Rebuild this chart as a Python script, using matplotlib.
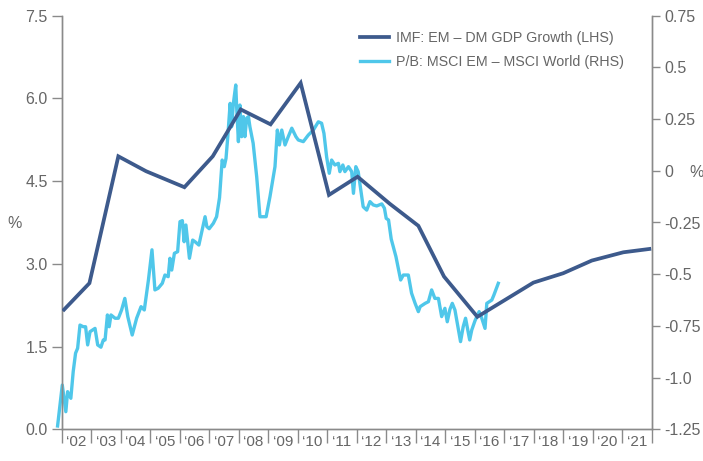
import matplotlib
matplotlib.use("Agg")
import matplotlib.pyplot as plt
from matplotlib.ticker import FixedLocator, FixedFormatter, NullFormatter

# IMF: EM - DM GDP growth (LHS, %)
gdp_x = [2002.08, 2002.94, 2003.92, 2004.86, 2006.16, 2007.12, 2008.07, 2009.08,
         2010.10, 2011.06, 2012.03, 2013.12, 2014.09, 2014.96, 2016.09, 2017.99,
         2019.00, 2019.97, 2021.04, 2021.92]
gdp_y = [2.17, 2.65, 4.95, 4.68, 4.39, 4.95, 5.80, 5.53,
         6.28, 4.25, 4.58, 4.09, 3.69, 2.77, 2.04, 2.66,
         2.83, 3.06, 3.21, 3.27]

# P/B: MSCI EM - MSCI World (RHS)
pb_x = [2001.86, 2002.02, 2002.14, 2002.20, 2002.31, 2002.39, 2002.47, 2002.54, 2002.62, 2002.73,
        2002.81, 2002.88, 2002.96, 2003.13, 2003.22, 2003.33, 2003.41, 2003.47, 2003.55, 2003.61,
        2003.67, 2003.81, 2003.92, 2004.03, 2004.14, 2004.24, 2004.39, 2004.54, 2004.69, 2004.80,
        2004.94, 2005.06, 2005.16, 2005.27, 2005.41, 2005.50, 2005.61, 2005.67, 2005.73, 2005.82,
        2005.93, 2006.01, 2006.09, 2006.15, 2006.21, 2006.33, 2006.44, 2006.52, 2006.65, 2006.80,
        2006.86, 2006.92, 2007.00, 2007.14, 2007.25, 2007.35, 2007.44, 2007.51, 2007.57, 2007.63,
        2007.71, 2007.76, 2007.82, 2007.90, 2007.93, 2007.99, 2008.04, 2008.10, 2008.16, 2008.21,
        2008.27, 2008.33, 2008.38, 2008.49, 2008.61, 2008.72, 2008.81, 2008.93, 2009.06, 2009.23,
        2009.31, 2009.38, 2009.46, 2009.57, 2009.68, 2009.80, 2009.94, 2010.02, 2010.19, 2010.36,
        2010.53, 2010.70, 2010.81, 2010.89, 2010.98, 2011.07, 2011.15, 2011.26, 2011.38, 2011.43,
        2011.53, 2011.60, 2011.72, 2011.83, 2011.89, 2011.97, 2012.05, 2012.14, 2012.22, 2012.34,
        2012.45, 2012.56, 2012.68, 2012.85, 2012.94, 2013.00, 2013.08, 2013.17, 2013.33, 2013.49,
        2013.58, 2013.75, 2013.86, 2013.98, 2014.09, 2014.15, 2014.32, 2014.43, 2014.54, 2014.65,
        2014.77, 2014.88, 2014.99, 2015.07, 2015.16, 2015.24, 2015.33, 2015.41, 2015.52, 2015.61,
        2015.69, 2015.83, 2015.90, 2016.01, 2016.15, 2016.24, 2016.35, 2016.41, 2016.58, 2016.65,
        2016.80]
pb_y = [-1.234, -1.036, -1.165, -1.068, -1.100, -0.971, -0.882, -0.858, -0.746, -0.754,
        -0.754, -0.842, -0.778, -0.762, -0.842, -0.853, -0.818, -0.818, -0.697, -0.754,
        -0.697, -0.713, -0.713, -0.673, -0.617, -0.705, -0.794, -0.713, -0.657, -0.673,
        -0.528, -0.382, -0.576, -0.568, -0.544, -0.504, -0.512, -0.423, -0.480, -0.399,
        -0.391, -0.246, -0.241, -0.343, -0.262, -0.423, -0.335, -0.343, -0.359, -0.260,
        -0.222, -0.270, -0.280, -0.254, -0.222, -0.130, 0.052, 0.020, 0.060, 0.165,
        0.326, 0.213, 0.326, 0.415, 0.310, 0.141, 0.318, 0.165, 0.262, 0.165,
        0.254, 0.262, 0.213, 0.133, -0.029, -0.222, -0.222, -0.222, -0.125, 0.020,
        0.197, 0.125, 0.197, 0.125, 0.165, 0.206, 0.165, 0.149, 0.141, 0.173,
        0.197, 0.237, 0.230, 0.181, 0.068, -0.012, 0.052, 0.028, 0.036, -0.004,
        0.028, -0.004, 0.020, -0.004, -0.109, 0.020, -0.004, -0.093, -0.174, -0.190,
        -0.149, -0.165, -0.170, -0.160, -0.181, -0.230, -0.238, -0.330, -0.415, -0.528,
        -0.504, -0.504, -0.592, -0.641, -0.681, -0.657, -0.641, -0.633, -0.576, -0.617,
        -0.617, -0.705, -0.665, -0.730, -0.670, -0.641, -0.673, -0.737, -0.826, -0.754,
        -0.713, -0.818, -0.770, -0.725, -0.681, -0.713, -0.762, -0.641, -0.625, -0.601,
        -0.544]

years = list(range(2002, 2022))
year_labels = ["\u2018%02d" % (y % 100) for y in years]
lhs_ticks = [0.0, 1.5, 3.0, 4.5, 6.0, 7.5]
lhs_labels = ["0.0", "1.5", "3.0", "4.5", "6.0", "7.5"]
rhs_ticks = [-1.25, -1.0, -0.75, -0.5, -0.25, 0.0, 0.25, 0.5, 0.75]
rhs_labels = ["-1.25", "-1.0", "-0.75", "-0.5", "-0.25", "0", "0.25", "0.5", "0.75"]

dark = "#3d5a8c"
light = "#4fc7ea"
grey = "#8a8a8a"
txt = "#666666"
fs = 11.5

plt.rcParams['font.family'] = ['Liberation Sans', 'DejaVu Sans']

fig = plt.figure(figsize=(7.03, 4.61), dpi=100)
ax = fig.add_axes([61.7 / 703, 1 - 429.3 / 461, 590 / 703, 413.6 / 461])
ax2 = ax.twinx()

l1, = ax.plot(gdp_x, gdp_y, color=dark, lw=2.7, solid_joinstyle='miter', zorder=3)
l2, = ax2.plot(pb_x, pb_y, color=light, lw=2.4, clip_on=False, zorder=2)
ax.set_zorder(ax2.get_zorder() + 1)
ax.patch.set_visible(False)

ax.set_xlim(2002, 2022)
ax.set_ylim(0, 7.5)
ax2.set_ylim(-1.25, 0.75)

for a in (ax, ax2):
    for s in a.spines.values():
        s.set_color(grey)
        s.set_linewidth(1.0)
    a.spines['top'].set_visible(False)

ax.xaxis.set_major_locator(FixedLocator(list(range(2002, 2023))))
ax.xaxis.set_major_formatter(NullFormatter())
ax.xaxis.set_minor_locator(FixedLocator([y + 0.5 for y in years]))
ax.xaxis.set_minor_formatter(FixedFormatter(year_labels))
ax.tick_params(axis='x', which='major', length=10, color=grey, width=1, direction='out')
ax.tick_params(axis='x', which='minor', length=0, labelsize=fs - 0.5, labelcolor=txt, pad=4)

ax.yaxis.set_major_locator(FixedLocator(lhs_ticks))
ax.yaxis.set_major_formatter(FixedFormatter(lhs_labels))
ax.tick_params(axis='y', length=7, color=grey, width=1, labelsize=fs, labelcolor=txt, pad=3)

ax2.yaxis.set_major_locator(FixedLocator(rhs_ticks))
ax2.yaxis.set_major_formatter(FixedFormatter(rhs_labels))
ax2.tick_params(axis='y', length=6, color=grey, width=1, labelsize=fs, labelcolor=txt, pad=3)

fig.text(15 / 703, 1 - 223 / 461, "%", color=txt, fontsize=fs, ha='center', va='center')
fig.text(697 / 703, 1 - 172 / 461, "%", color=txt, fontsize=fs, ha='center', va='center')

fig.legend([l1, l2], ["IMF: EM \u2013 DM GDP Growth (LHS)", "P/B: MSCI EM \u2013 MSCI World (RHS)"],
           loc='upper left', bbox_to_anchor=(360 / 703, 1 - 31 / 461), frameon=False,
           fontsize=10.3, labelcolor=txt, handlelength=2.0, handletextpad=0.5,
           labelspacing=0.7, borderpad=0, borderaxespad=0)

fig.savefig("out.png", dpi=100)
